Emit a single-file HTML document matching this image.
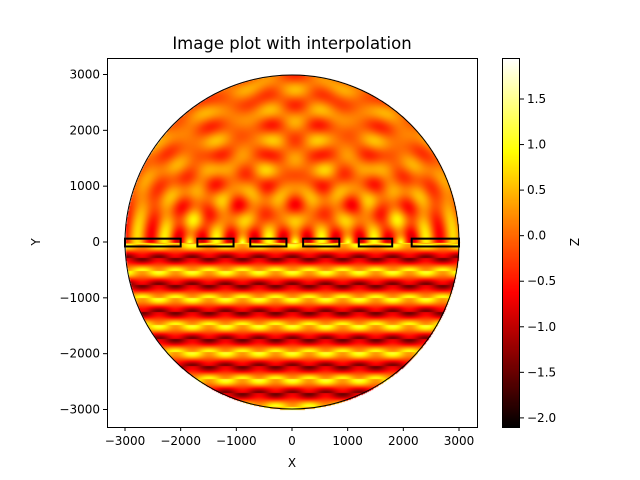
<!DOCTYPE html>
<html><head><meta charset="utf-8"><style>
body{margin:0;background:#fff;width:640px;height:480px;overflow:hidden;position:relative;font-family:"Liberation Sans","DejaVu Sans",sans-serif}
canvas{position:absolute}
svg{position:absolute;left:0;top:0}
text{font-family:"DejaVu Sans","Liberation Sans",sans-serif;font-size:12px;fill:#000}
</style></head><body>
<canvas id="img" width="370" height="370" style="left:107px;top:58px"></canvas>
<canvas id="cb" width="18" height="370" style="left:502px;top:58px"></canvas>
<svg id="svg" width="640" height="480"></svg>
<script>
const slitCenters=[-1850,-900,50,1000,1950];
const barsX=[[-3000,-2000],[-1700,-1050],[-750,-100],[200,850],[1200,1800],[2150,3000]];
const xTicks=[-3000,-2000,-1000,0,1000,2000,3000];
const yTicks=[-3000,-2000,-1000,0,1000,2000,3000];
const cbTicks=[1.5,1.0,0.5,0.0,-0.5,-1.0,-1.5,-2.0];
const zMin=-2.1, zMax=1.95, radius=3000, wavelength=485;

const X0=107,X1=477,Y0=58,Y1=427;
const sx=v=>292+v*(334/6000);
const sy=v=>242-v*(335/6000);
const cbY=v=>Y1-(v-zMin)/(zMax-zMin)*(Y1-Y0);
function hot(t){t=Math.max(0,Math.min(1,t));
 return [Math.min(1,t/0.365),Math.max(0,Math.min(1,(t-0.365)/0.381)),Math.max(0,Math.min(1,(t-0.746)/0.254))].map(c=>Math.round(c*255));}
const k=2*Math.PI/wavelength;
function field(x,y){
 if(y<0){return 1.3*Math.cos(k*y+0.5)*(0.7+0.3*Math.cos(2*Math.PI*x/600+Math.PI*Math.floor((y+9000)/(wavelength/2))))-0.2;}
 let re=0;
 for(const c of slitCenters){const r=Math.hypot(x-c,y)+60;re+=Math.cos(k*r)*Math.sqrt(300/r);}
 return 0.05+0.4*re;
}
const ctx=document.getElementById('img').getContext('2d');
const id=ctx.createImageData(370,370);
for(let py=0;py<370;py++)for(let px=0;px<370;px++){
 const X=(px+X0-292)/(334/6000),Y=(242-(py+Y0))/(335/6000);
 const i=(py*370+px)*4;
 if(X*X+Y*Y>radius*radius){id.data[i+3]=0;continue;}
 const c=hot((field(X,Y)-zMin)/(zMax-zMin));
 id.data[i]=c[0];id.data[i+1]=c[1];id.data[i+2]=c[2];id.data[i+3]=255;}
ctx.putImageData(id,0,0);
const cb=document.getElementById('cb').getContext('2d');
for(let py=0;py<370;py++){const c=hot(1-py/369);cb.fillStyle=`rgb(${c})`;cb.fillRect(0,py,18,1);}
const svg=document.getElementById('svg');const NS='http://www.w3.org/2000/svg';
function el(t,a,txt){const e=document.createElementNS(NS,t);for(const k in a)e.setAttribute(k,a[k]);if(txt!==undefined)e.textContent=txt;svg.appendChild(e);return e;}
let e=el('circle',{cx:292,cy:242,r:167,fill:'none',stroke:'#000','stroke-width':1});


for(const b of barsX){
 e=el('rect',{x:sx(b[0]),y:sy(60),width:sx(b[1])-sx(b[0]),height:sy(-80)-sy(60),fill:'none',stroke:'#000','stroke-width':2});
 
 
}
e=el('rect',{x:X0+0.5,y:Y0+0.5,width:X1-X0,height:Y1-Y0,fill:'none',stroke:'#000','stroke-width':1});


for(const t of xTicks){const x=sx(t);
 el('line',{x1:x,x2:x,y1:Y1,y2:Y1+4,stroke:'#000'});
 e=el('text',{x:x,y:Y1+18,'text-anchor':'middle'},String(t).replace('-','−'));
 
 }
for(const t of yTicks){const y=sy(t);
 el('line',{x1:X0,x2:X0-4,y1:y,y2:y,stroke:'#000'});
 e=el('text',{x:X0-7,y:y+4,'text-anchor':'end'},String(t).replace('-','−'));
 
 }
e=el('rect',{x:502.5,y:Y0+0.5,width:17,height:Y1-Y0,fill:'none',stroke:'#000'});


for(const t of cbTicks){const y=cbY(t);
 el('line',{x1:520,x2:524,y1:y,y2:y,stroke:'#000'});
 e=el('text',{x:527,y:y+4},t.toFixed(1).replace('-','−'));
 
 }
e=el('text',{x:292,y:49,'text-anchor':'middle',style:'font-size:16.5px'},'Image plot with interpolation');


e=el('text',{x:292,y:467,'text-anchor':'middle'},'X');


e=el('text',{x:40,y:242,'text-anchor':'middle',transform:'rotate(-90 40 242)'},'Y');


e=el('text',{x:579,y:242,'text-anchor':'middle',transform:'rotate(-90 579 242)'},'Z');


</script></body></html>
